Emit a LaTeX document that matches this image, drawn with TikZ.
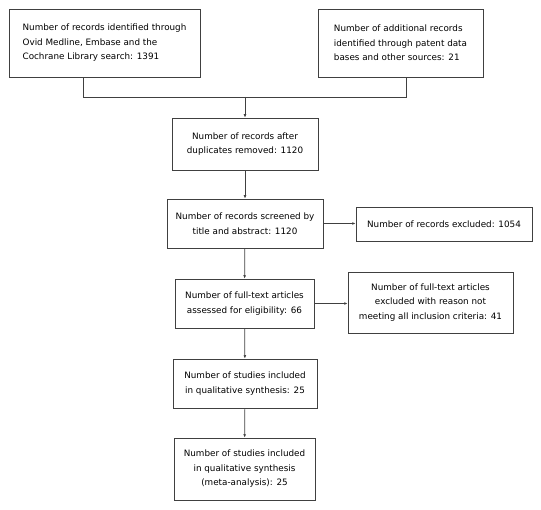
\documentclass[tikz,border=0pt]{standalone}
\usepackage{fontspec}
\setmainfont{DejaVu Sans}
\usetikzlibrary{arrows.meta}
\begin{document}
\begin{tikzpicture}[x=1pt,y=-1pt,
  box/.style={draw=black!75, line width=0.7pt, inner sep=0pt, align=center,
    font=\fontsize{8.8}{14.5}\selectfont},
  line/.style={draw=black!75, line width=0.7pt},
  >={Latex[length=3.4pt,width=2.8pt]}]
\useasboundingbox (0,0) rectangle (541,510);
\node [box, align=left, minimum width=191pt, minimum height=68pt] (0) at (104.5,43) {Number of records identified through\\Ovid Medline, Embase and the\\Cochrane Library search: 1391};
\node [box, align=left, minimum width=165pt, minimum height=68pt] (1) at (400.5,43) {Number of additional records\\identified through patent data\\bases and other sources: 21};
\node [box, minimum width=146pt, minimum height=52pt] (2) at (245,144) {Number of records after\\duplicates removed: 1120};
\node [box, minimum width=156pt, minimum height=49pt] (3) at (245,223.5) {Number of records screened by\\title and abstract: 1120};
\node [box, minimum width=139pt, minimum height=49pt] (4) at (244.5,303.5) {Number of full-text articles\\assessed for eligibility: 66};
\node [box, minimum width=144pt, minimum height=49pt] (5) at (245,383.5) {Number of studies included\\in qualitative synthesis: 25};
\node [box, minimum width=141pt, minimum height=62pt] (6) at (244.5,469) {Number of studies included\\in qualitative synthesis\\(meta-analysis): 25};
\node [box, minimum width=176pt, minimum height=34pt] (7) at (444,224) {Number of records excluded: 1054};
\node [box, minimum width=165pt, minimum height=61pt] (8) at (430.5,302.5) {Number of full-text articles\\excluded with reason not\\meeting all inclusion criteria: 41};
\coordinate (j) at (245,97);

\draw [line] ([xshift=-21.5pt]0.south) -- ++(0,20) -| ([xshift=5.5pt]1.south);
\draw [line,->] (j) -- (2.north);
\draw [line,->] (2) -- (3);
\draw [line,->] (3) -- (4);
\draw [line,->] (4) -- (5);
\draw [line,->] (5) -- (6);
\draw [line,->] (3.east) -- (3.east -| 7.west);
\draw [line,->] (4.east) -- (4.east -| 8.west);
\end{tikzpicture}
\end{document}
